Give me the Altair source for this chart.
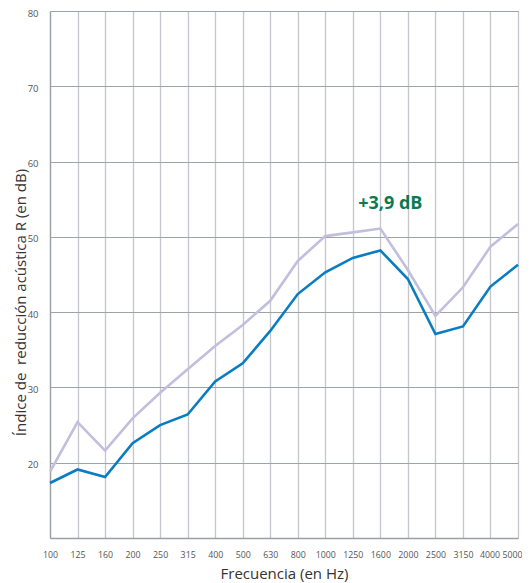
import altair as alt
import pandas as pd

freqs = ["100", "125", "160", "200", "250", "315", "400", "500", "630", "800",
         "1000", "1250", "1600", "2000", "2500", "3150", "4000", "5000"]
blue_vals = [17.3, 19.1, 18.1, 22.6, 25.0, 26.4, 30.8, 33.2, 37.5, 42.4,
             45.3, 47.2, 48.2, 44.4, 37.1, 38.1, 43.4, 46.3]
purple_vals = [18.8, 25.4, 21.6, 25.9, 29.3, 32.4, 35.5, 38.3, 41.5, 46.8,
               50.1, 50.6, 51.1, 45.6, 39.5, 43.3, 48.7, 51.7]
series_names = ["Mejorado", "Base"]
series_colors = ["#c2bedd", "#0a7cc2"]
y_ticks = [20, 30, 40, 50, 60, 70, 80]
annot_text = ["+3,9 dB"]
annot_x = ["1600"]
annot_y = [54.4]

rows = []
for f, v in zip(freqs, purple_vals):
    rows.append({"freq": f, "R": v, "serie": series_names[0]})
for f, v in zip(freqs, blue_vals):
    rows.append({"freq": f, "R": v, "serie": series_names[1]})
df = pd.DataFrame(rows)

FONT = "Open Sans"

x_enc = alt.X("freq:N", sort=freqs,
              scale=alt.Scale(type="point", padding=0),
              axis=alt.Axis(title="Frecuencia (en Hz)", labelAngle=0,
                            grid=True, gridColor="#c4c6cc", gridWidth=1.3,
                            domain=True, domainColor="#9aa0a4", domainWidth=1.3,
                            ticks=False, labelPadding=12,
                            labelAlign={"expr": "datum.value == '5000' ? 'right' : 'center'"},
                            labelOffset={"expr": "datum.value == '5000' ? 4 : (datum.value == '4000' ? -1 : 0)"},
                            labelFont=FONT, labelFontSize=8.8, labelColor="#555",
                            titleFont=FONT, titleFontSize=15, titleFontWeight="normal",
                            titleColor="#333", titlePadding=8))
y_enc = alt.Y("R:Q", scale=alt.Scale(domain=[10, 80], nice=False, zero=False),
              axis=alt.Axis(title="Índice de\u00a0 reducción acústica R (en dB)",
                            values=y_ticks, grid=True, gridColor="#9ea3a8", gridWidth=1,
                            domain=True, domainColor="#9aa0a4", domainWidth=1.3,
                            ticks=False, labelPadding=12, labelBaseline="top",
                            labelOffset=-3,
                            labelFont=FONT, labelFontSize=9.5, labelColor="#555",
                            titleFont=FONT, titleFontSize=15, titleFontWeight="normal",
                            titleColor="#333", titleAngle=270, titleX=-30, titleY=291,
                            titleAlign="center", titleBaseline="middle"))

lines = alt.Chart(df).mark_line(strokeWidth=2.6, strokeJoin="miter").encode(
    x=x_enc, y=y_enc,
    color=alt.Color("serie:N", sort=series_names,
                    scale=alt.Scale(domain=series_names, range=series_colors),
                    legend=None),
    order=alt.Order("serie:N"),
    detail="serie:N",
)

annot_df = pd.DataFrame({"freq": annot_x, "R": annot_y, "t": annot_text})
annot = alt.Chart(annot_df).mark_text(
    font=FONT, fontSize=18, fontWeight="bold", color="#0b7a52",
    align="center", baseline="middle", dx=10
).encode(x=alt.X("freq:N", sort=freqs), y="R:Q", text="t:N")

chart = alt.layer(lines, annot).properties(
    width=468, height=527,
    autosize=alt.AutoSizeParams(type="none"),
    padding={"left": 42, "top": 3, "right": 4, "bottom": 45},
).configure_view(stroke=None).configure(background="white")

chart.save("out.html", embed_options={"renderer": "svg", "actions": False})
